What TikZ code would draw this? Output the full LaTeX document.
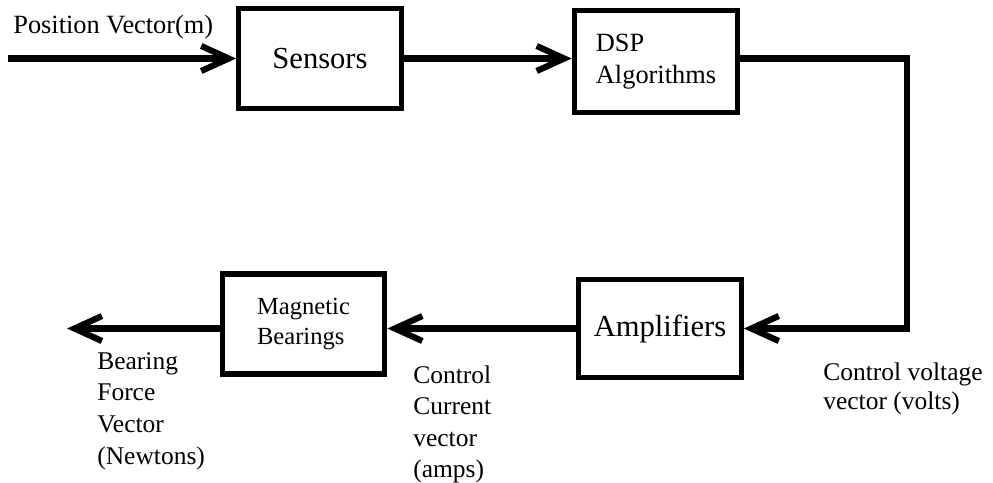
\documentclass[tikz,border=0pt]{standalone}
\usepackage{fontspec}
\setmainfont{Liberation Serif}
\usepackage{tikz}
\usetikzlibrary{arrows.meta, positioning, calc}
\tikzset{
  blockbox/.style={rectangle, draw=black, line width=3pt, minimum width=3.25cm, minimum height=2cm, align=left, inner sep=2pt},
  bigtext/.style={font=\fontsize{17.4}{21}\selectfont},
  midtext/.style={font=\fontsize{15}{18.2}\selectfont},
  labeltext/.style={anchor=north west, inner sep=0pt, align=left, font=\fontsize{14.5}{18}\selectfont},
  flow/.style={-{Straight Barb[length=5.5mm, width=5mm]}, line width=3.5pt, black}
}

\begin{document}
\begin{tikzpicture}
  \useasboundingbox (0,0) rectangle (19.86,-9.64);

  % Forward path
  \node[blockbox, bigtext] (sensors) at (6.40,-1.17) {Sensors};
  \node[blockbox, midtext, minimum width=3.27cm, minimum height=2.05cm] (dsp) at (13.12,-1.23) {DSP\\Algorithms};
  \coordinate (in) at (0.16,-1.17);
  \node[labeltext, font=\fontsize{15}{18}\selectfont] (posvec) at (0.26,-0.30) {Position Vector(m)};

  \draw[flow] (in) -- (sensors.west);
  \draw[flow] (sensors.east) -- (sensors.east -| dsp.west);

  % Return path
  \coordinate (bend) at (18.14,0);
  \node[blockbox, bigtext, minimum height=1.95cm] (amp) at (13.20,-6.57) {Amplifiers};
  \node[blockbox, font=\fontsize{14}{17.5}\selectfont] (bearings) at (6.07,-6.48) {Magnetic\\Bearings};
  \coordinate (out) at (1.34,0);

  \draw[flow] (sensors.east -| dsp.east) -| (amp.east -| bend) -- (amp.east);
  \draw[flow] (amp.west) -- (amp.west -| bearings.east);
  \draw[flow] (bearings.west |- amp.west) -- (amp.west -| out);

  % Signal labels
  \node[labeltext] (force) at (1.94,-7.04) {Bearing\\Force\\Vector\\(Newtons)};
  \node[labeltext] (current) at (8.26,-7.30) {Control\\Current\\vector\\(amps)};
  \node[labeltext, font=\fontsize{14.5}{16.8}\selectfont] (voltage) at (16.46,-7.24) {Control voltage\\vector (volts)};
\end{tikzpicture}
\end{document}
